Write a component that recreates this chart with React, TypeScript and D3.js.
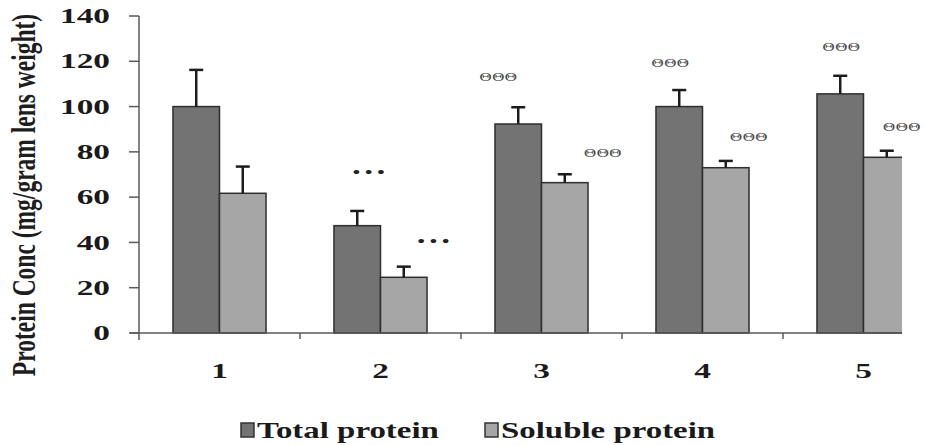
import { useRef, useEffect } from 'react'
import * as d3 from 'd3'

// groups on the x axis
const categories = ['1', '2', '3', '4', '5']
const seriesNames = ['Total protein', 'Soluble protein']

// mean values (mg/gram lens weight) and upper error bars
const totalProtein = [100, 47.4, 92.3, 100, 105.6]
const totalError = [16.2, 6.5, 7.4, 7.3, 8]
const solubleProtein = [61.7, 24.6, 66.4, 73, 77.6]
const solubleError = [11.8, 4.7, 3.7, 3, 2.9]

const yTicks = [0, 20, 40, 60, 80, 100, 120, 140]

// significance marks above each bar and the value level they sit at
const totalMarks = ['', '•••', 'ΘΘΘ', 'ΘΘΘ', 'ΘΘΘ']
const totalMarkAt = [0, 71, 113, 119.3, 126.3]
const solubleMarks = ['', '•••', 'ΘΘΘ', 'ΘΘΘ', 'ΘΘΘ']
const solubleMarkAt = [0, 40.6, 79.5, 86.6, 91]

const colors = ['#737373', '#a6a6a6']

function App() {
  const ref = useRef<SVGSVGElement>(null)

  useEffect(() => {
    const svg = d3.select(ref.current)
    svg.selectAll('*').remove()

    const H = 445
    const left = 139, bottom = 333, top = 16
    const clipRight = 902
    const sx = 1.4 // the source picture is stretched sideways
    const sxNum = 1.55
    const font = 'Liberation Serif'

    const x = d3.scaleBand().domain(categories).range([left, 944]).paddingInner(0).paddingOuter(0)
    const x1 = d3.scaleBand().domain(seriesNames).range([0, x.bandwidth()]).paddingInner(0).paddingOuter(0.73)
    const y = d3.scaleLinear().domain([0, 140]).range([bottom, top])

    svg.append('defs').append('clipPath').attr('id', 'plotclip')
      .append('rect').attr('x', 0).attr('y', 0).attr('width', clipRight).attr('height', H)

    const plot = svg.append('g').attr('clip-path', 'url(#plotclip)')

    const rows = categories.map((c, i) => [
      { cat: c, s: seriesNames[0], v: totalProtein[i], e: totalError[i], k: 0 },
      { cat: c, s: seriesNames[1], v: solubleProtein[i], e: solubleError[i], k: 1 },
    ]).flat()

    plot.selectAll('rect.bar').data(rows).enter().append('rect')
      .attr('class', 'bar')
      .attr('x', d => x(d.cat)! + x1(d.s)!)
      .attr('y', d => y(d.v))
      .attr('width', x1.bandwidth())
      .attr('height', d => y(0) - y(d.v))
      .attr('fill', d => colors[d.k])
      .attr('stroke', '#2e2e2e')
      .attr('stroke-width', 1.5)

    // error bars (upper only)
    const eb = plot.selectAll('g.err').data(rows).enter().append('g').attr('class', 'err')
      .attr('stroke', '#1c1c1c').attr('stroke-width', 2.5)
    eb.append('line')
      .attr('x1', d => x(d.cat)! + x1(d.s)! + x1.bandwidth() / 2)
      .attr('x2', d => x(d.cat)! + x1(d.s)! + x1.bandwidth() / 2)
      .attr('y1', d => y(d.v))
      .attr('y2', d => y(d.v + d.e))
    eb.append('line')
      .attr('x1', d => x(d.cat)! + x1(d.s)! + x1.bandwidth() / 2 - 7)
      .attr('x2', d => x(d.cat)! + x1(d.s)! + x1.bandwidth() / 2 + 7)
      .attr('y1', d => y(d.v + d.e))
      .attr('y2', d => y(d.v + d.e))

    // x axis
    plot.append('line').attr('x1', left - 9).attr('x2', 944).attr('y1', bottom).attr('y2', bottom)
      .attr('stroke', '#5a5a5a').attr('stroke-width', 1.5)
    plot.selectAll('line.xt').data(categories.slice(1)).enter().append('line')
      .attr('x1', d => x(d)!).attr('x2', d => x(d)!)
      .attr('y1', bottom).attr('y2', bottom + 6)
      .attr('stroke', '#5a5a5a').attr('stroke-width', 1.5)

    svg.selectAll('text.xl').data(categories).enter().append('text')
      .attr('transform', d => `translate(${x(d)! + x.bandwidth() / 2},378) scale(${sxNum},1)`)
      .attr('text-anchor', 'middle')
      .style('font', `bold 21.5px "${font}"`)
      .attr('fill', '#1a1a1a')
      .text(d => d)

    // y axis
    svg.append('line').attr('x1', left).attr('x2', left).attr('y1', top).attr('y2', bottom + 7)
      .attr('stroke', '#5a5a5a').attr('stroke-width', 1.5)
    svg.selectAll('line.yt').data(yTicks).enter().append('line')
      .attr('x1', left - 10).attr('x2', left).attr('y1', d => y(d)).attr('y2', d => y(d))
      .attr('stroke', '#5a5a5a').attr('stroke-width', 1.5)
    svg.selectAll('text.yl').data(yTicks).enter().append('text')
      .attr('transform', d => `translate(110,${y(d)}) scale(${sxNum},1)`)
      .attr('text-anchor', 'end')
      .attr('dy', '0.33em')
      .style('font', `bold 21.5px "${font}"`)
      .attr('fill', '#1a1a1a')
      .text(d => d)

    svg.append('text')
      .attr('transform', `translate(35,195) scale(${sx},1) rotate(-90)`)
      .attr('text-anchor', 'middle')
      .style('font', `bold 23.5px "${font}"`)
      .attr('fill', '#1e1e1e')
      .text('Protein Conc (mg/gram lens weight)')

    // significance marks
    const totalDx = [0, 14, -20, -9, 1]
    const solubleDx = [0, 32, 38, 23, 15]
    const marks = categories.map((c, i) => [
      { cx: x(c)! + x1(seriesNames[0])! + x1.bandwidth() / 2 + totalDx[i], v: totalMarkAt[i], t: totalMarks[i] },
      { cx: x(c)! + x1(seriesNames[1])! + x1.bandwidth() / 2 + solubleDx[i], v: solubleMarkAt[i], t: solubleMarks[i] },
    ]).flat().filter(m => m.t)
    svg.selectAll('text.mk').data(marks).enter().append('text')
      .attr('transform', d => `translate(${d.cx},${y(d.v)}) scale(${sx},1)`)
      .attr('text-anchor', 'middle')
      .attr('dy', d => d.t === '•••' ? '0.3em' : '0.36em')
      .attr('letter-spacing', d => d.t === '•••' ? 3.5 : 0)
      .style('font', d => d.t === '•••' ? `bold 15px "${font}"` : `11px "DejaVu Serif"`)
      .attr('fill', d => d.t === '•••' ? '#222' : '#4a4a4a')
      .text(d => d.t)

    // legend
    const legendX = [241, 485]
    const lg = svg.selectAll('g.lg').data(seriesNames).enter().append('g')
      .attr('transform', (_d, i) => `translate(${legendX[i]},423)`)
    lg.append('rect').attr('width', 13).attr('height', 14)
      .attr('fill', (_d, i) => colors[i]).attr('stroke', '#333').attr('stroke-width', 1.5)
    lg.append('text')
      .attr('transform', `translate(16,15) scale(${sx},1)`)
      .style('font', `bold 23.5px "${font}"`)
      .attr('fill', '#1a1a1a')
      .text(d => d)
  }, [])

  return (
    <div>
      <svg ref={ref} width={925} height={445}
        style={{ position: 'absolute', left: 0, top: 0, background: '#fff' }}>
      </svg>
    </div>
  )
}

export default App
